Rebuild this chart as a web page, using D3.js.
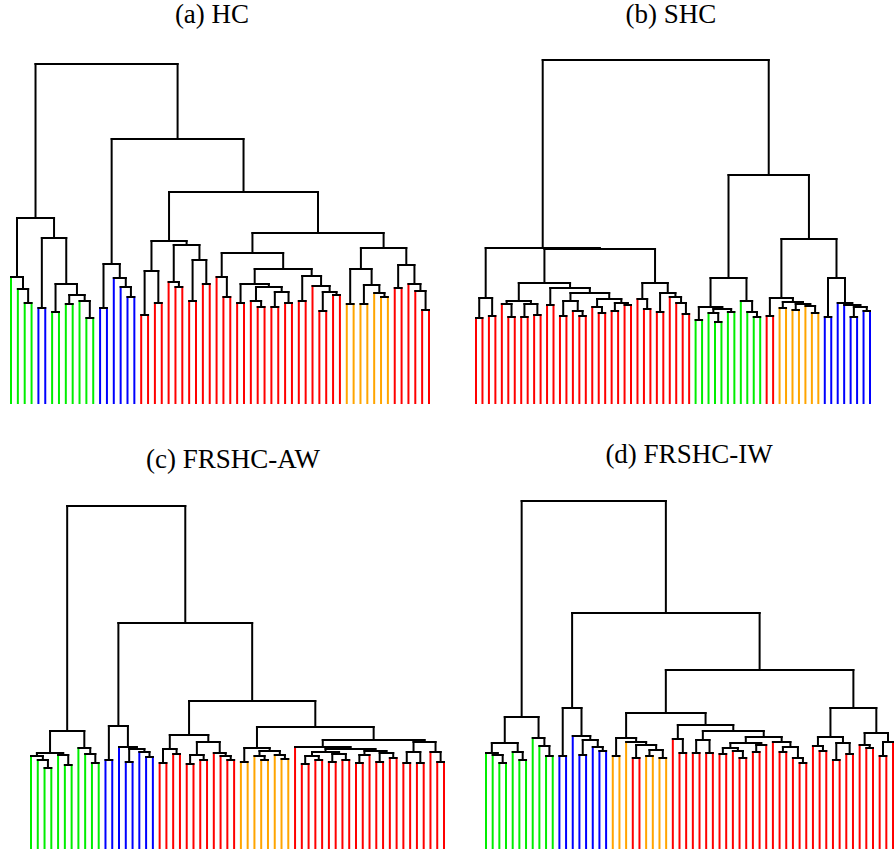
<!DOCTYPE html>
<html>
<head>
<meta charset="utf-8">
<script src="https://cdn.jsdelivr.net/npm/d3@7"></script>
<style>
  body { margin: 0; background: #fff; }
  svg { display: block; }
  .title { font-family: "Liberation Serif", "Times New Roman", serif; font-size: 27px; text-anchor: middle; fill: #000; }
  .link { fill: none; stroke-width: 2; stroke-linecap: square; }
</style>
</head>
<body>
<script>
'use strict';

// Each merge is [height, left, right]; leaves are class codes (g, b, r, o).
// Heights in arbitrary distance units (0 = leaf level).

const treeHC = [339,
  [185, [126, 'g', [114, 'g', [100, 'g', 'g']]],
        [165, [95, 'b', 'b'], [119, [91, 'g', 'g'], [108, [99, 'g', 'g'], [102, 'g', [85, 'g', 'g']]]]]],
  [264,
    [139, [95, 'b', 'b'], [125, 'b', [116, 'b', [106, 'b', 'b']]]],
    [211,
      [162, [132, [88, 'r', 'r'], [100, 'r', 'r']],
            [158, [121, 'r', [116, 'r', 'r']], [143, [102, 'r', 'r'], [119, 'r', 'r']]]],
      [170,
        [150, [126, 'r', [106, 'r', 'r']],
              [134, [119, [100, 'r', 'r'], [116, [102, 'r', [96, 'r', 'r']], [111, [96, 'r', 'r'], [100, 'r', 'r']]]],
                    [127, [102, 'r', 'r'], [117, 'r', [111, [92, 'r', 'r'], [108, 'r', 'r']]]]]],
        [155, [134, [99, 'o', 'o'], [118, [99, 'o', 'o'], [110, 'o', [106, 'o', 'o']]]],
              [138, [115, 'r', 'r'], [119, 'r', [112, 'r', [93, 'r', 'r']]]]]]]]];

const treeSHC = [343,
  [155,
    [105, [85, 'r', 'r'], [87, 'r', 'r']],
    [154,
      [120,
        [102, [99, 'r', [86, 'r', 'r']], [99, [86, 'r', 'r'], [88, 'r', 'r']]],
        [115, [98, 'r', 'r'],
              [110, [102, [87, 'r', 'r'], [92, 'r', [87, 'r', 'r']]],
                    [104, [96, 'r', [90, 'r', 'r']], [100, [92, 'r', 'r'], [98, 'r', 'r']]]]]],
      [120, [104, 'r', [94, 'r', 'r']],
            [110, [91, 'r', 'r'], [106, 'r', [100, 'r', [89, 'r', 'r']]]]]]],
  [228,
    [125, [96, [83, 'g', 'g'], [94, [90, 'g', [81, 'g', 'g']], [91, 'g', 'g']]],
          [102, 'g', [91, 'g', [86, 'g', 'g']]]],
    [164,
      [105, [87, 'r', 'r'], [101, [95, 'o', 'o'], [99, [93, 'o', 'o'], [97, 'o', [90, 'o', 'o']]]]],
      [125, [86, 'b', 'b'], [100, 'b', [98, 'b', [96, [86, 'b', 'b'], [92, 'b', 'b']]]]]]]];

const treeAW = [342,
  [117, [95, [92, 'g', [88, 'g', [80, 'g', 'g']]], [93, 'g', [83, 'g', 'g']]],
        [100, 'g', [94, 'g', [85, 'g', 'g']]]],
  [225,
    [122, [88, 'b', 'b'], [101, 'b', [99, [86, 'b', 'b'], [96, 'b', [91, 'b', 'b']]]]],
    [147,
      [113, [99, [85, 'r', 'r'], [94, 'r', 'r']],
            [106, [93, [84, 'r', 'r'], [88, 'r', 'r']], [95, 'r', [92, 'r', [88, 'r', 'r']]]]],
      [121,
        [100, [86, 'o', 'o'], [97, [92, 'o', [88, 'o', 'o']], [93, 'o', [89, 'o', 'o']]]],
        [108,
          [101, 'r',
                [99, [96, [92, [84, 'r', 'r'], [88, 'r', 'r']], [94, [86, 'r', 'r'], [88, 'r', 'r']]],
                     [97, [93, [85, 'r', 'r'], 'r'], [95, [86, 'r', 'r'], [90, 'r', 'r']]]]],
          [106, [96, [85, 'r', 'r'], [85, 'r', 'r']], [96, 'r', [86, 'r', 'r']]]]]]]];

const treeIW = [347,
  [131, [105, [95, 'g', [93, 'g', [85, 'g', 'g']]], [96, 'g', [88, 'g', 'g']]],
        [110, 'g', [102, 'g', [92, 'g', 'g']]]],
  [235,
    [140, [92, 'b', 'b'], [112, 'b', [108, [93, 'b', 'b'], [101, 'b', [97, 'b', 'b']]]]],
    [178,
      [135,
        [110, [92, 'o', 'o'], [106, 'o', [103, [90, 'r', 'r'], [98, [92, 'o', 'o'], [90, 'o', 'o']]]]],
        [123, [109, 'r', [95, 'r', 'r']],
              [117, [108, [95, 'r', 'r'], [95, 'r', 'r']],
                    [111, [105, [100, [94, 'r', 'r'], [97, 'r', [90, 'r', 'r']]], [103, [96, 'r', 'r'], 'r']],
                          [106, 'r', [101, [96, 'r', 'r'], [90, 'r', [85, 'r', 'r']]]]]]]],
      [140, [111, [102, 'r', [97, 'r', 'r']], [105, [88, 'r', 'r'], [94, 'r', 'r']]],
            [115, [103, 'r', [100, 'r', 'r']], [106, [92, 'r', 'r'], 'r']]]]]];

const titles = ['(a) HC', '(b) SHC', '(c) FRSHC-AW', '(d) FRSHC-IW'];
const trees = [treeHC, treeSHC, treeAW, treeIW];

const classColors = { g: '#00ee00', b: '#0000ff', r: '#ff0000', o: '#ffa500' };

// where each dendrogram sits on the page
const panels = [
  { x0: 11,  x1: 429, base: 403, top: 64,  titleX: 212, titleY: 23 },
  { x0: 476, x1: 870, base: 403, top: 60,  titleX: 671, titleY: 23 },
  { x0: 31,  x1: 444, base: 848, top: 506, titleX: 233, titleY: 468 },
  { x0: 486, x1: 893, base: 848, top: 501, titleX: 689, titleY: 463 }
];


function drawDendrogram(svg, tree, title, panel) {
  const root = d3.hierarchy(tree, d => Array.isArray(d) ? d.slice(1) : null);
  const leaves = root.leaves();
  const x = d3.scaleLinear().domain([0, leaves.length - 1]).range([panel.x0, panel.x1]);
  const y = d3.scaleLinear().domain([0, tree[0]]).range([panel.base, panel.top]);

  leaves.forEach((d, i) => { d.px = x(i); d.h = 0; });
  root.eachAfter(d => {
    if (d.children) {
      d.px = d3.mean(d.children, c => c.px); // midpoint of the two branches
      d.h = d.data[0];
    }
  });

  const g = svg.append('g');
  const inner = root.descendants().filter(d => d.parent && d.children);

  // internal vertical branches
  g.selectAll('line.inner').data(inner).enter().append('line')
    .attr('class', 'link')
    .attr('x1', d => d.px).attr('x2', d => d.px)
    .attr('y1', d => y(d.parent.h)).attr('y2', d => y(d.h))
    .attr('stroke', '#000');

  // coloured leaf branches
  g.selectAll('line.leaf').data(leaves).enter().append('line')
    .attr('class', 'link')
    .attr('x1', d => d.px).attr('x2', d => d.px)
    .attr('y1', d => y(d.parent.h)).attr('y2', d => y(0))
    .attr('stroke', d => classColors[d.data]);

  // horizontal bars at each merge
  g.selectAll('line.bar').data(root.descendants().filter(d => d.children)).enter().append('line')
    .attr('class', 'link')
    .attr('x1', d => d.children[0].px).attr('x2', d => d.children[1].px)
    .attr('y1', d => y(d.h)).attr('y2', d => y(d.h))
    .attr('stroke', '#000');

  svg.append('text')
    .attr('class', 'title')
    .attr('x', panel.titleX)
    .attr('y', panel.titleY)
    .text(title);
}


function draw() {
  const svg = d3.select('body').append('svg')
    .attr('width', 896)
    .attr('height', 853);
  trees.forEach((t, i) => drawDendrogram(svg, t, titles[i], panels[i]));
}

draw();
</script>
</body>
</html>
